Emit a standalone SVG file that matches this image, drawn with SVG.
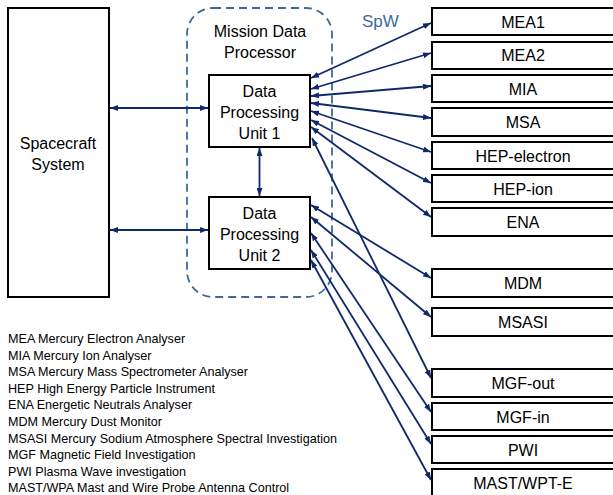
<svg xmlns="http://www.w3.org/2000/svg" width="613" height="495" viewBox="0 0 613 495">
<style>
  .box { fill: #ffffff; stroke: #000000; stroke-width: 2; }
  .t { font-family: "Liberation Sans", Arial, sans-serif; font-size: 16px; fill: #000000; text-anchor: middle; }
  .leg { font-family: "Liberation Sans", Arial, sans-serif; font-size: 12.6px; fill: #000000; }
  .c { stroke: #10296b; stroke-width: 1.8; fill: none; marker-start: url(#ah); marker-end: url(#ah); }
</style>
<defs>
  <marker id="ah" viewBox="0 0 8 6" refX="8" refY="3" markerWidth="8" markerHeight="6" markerUnits="userSpaceOnUse" orient="auto-start-reverse">
    <path d="M0,0 L8,3 L0,6 Z" fill="#10296b"/>
  </marker>
</defs>
<rect width="613" height="495" fill="#ffffff"/>

<g id="mdp">
  <rect x="187" y="8" width="145" height="289" rx="26" ry="26" fill="none" stroke="#3d6a9b" stroke-width="1.8" stroke-dasharray="8,5"/>
  <text class="t" x="260" y="37">Mission Data</text>
  <text class="t" x="260" y="58">Processor</text>
</g>

<g id="spw">
  <text x="362" y="27" font-family="'Liberation Sans', Arial, sans-serif" font-size="17" fill="#3d6a9b">SpW</text>
</g>

<g id="spacecraft">
  <rect class="box" x="8" y="8" width="101" height="289"/>
  <text class="t" x="58" y="149">Spacecraft</text>
  <text class="t" x="58" y="170">System</text>
</g>

<g id="dpu1">
  <rect class="box" x="209" y="75" width="101" height="72"/>
  <text class="t" x="259.500" y="97">Data</text>
  <text class="t" x="259.500" y="118">Processing</text>
  <text class="t" x="259.500" y="139">Unit 1</text>
</g>

<g id="dpu2">
  <rect class="box" x="209" y="197" width="101" height="72"/>
  <text class="t" x="259.500" y="219">Data</text>
  <text class="t" x="259.500" y="240">Processing</text>
  <text class="t" x="259.500" y="261">Unit 2</text>
</g>

<g id="mea1"><rect class="box" x="432" y="8" width="200" height="27"/><text class="t" x="523" y="27.500">MEA1</text></g>
<g id="mea2"><rect class="box" x="432" y="42" width="200" height="27"/><text class="t" x="523" y="61">MEA2</text></g>
<g id="mia"><rect class="box" x="432" y="75" width="200" height="27"/><text class="t" x="523" y="94.500">MIA</text></g>
<g id="msa"><rect class="box" x="432" y="108" width="200" height="28"/><text class="t" x="523" y="128">MSA</text></g>
<g id="hep-electron"><rect class="box" x="432" y="142" width="200" height="27"/><text class="t" x="523" y="161.500">HEP-electron</text></g>
<g id="hep-ion"><rect class="box" x="432" y="175" width="200" height="27"/><text class="t" x="523" y="194.500">HEP-ion</text></g>
<g id="ena"><rect class="box" x="432" y="208" width="200" height="28"/><text class="t" x="523" y="228">ENA</text></g>
<g id="mdm"><rect class="box" x="432" y="269" width="200" height="28"/><text class="t" x="523" y="289">MDM</text></g>
<g id="msasi"><rect class="box" x="432" y="308" width="200" height="28"/><text class="t" x="523" y="328">MSASI</text></g>
<g id="mgf-out"><rect class="box" x="432" y="369" width="200" height="28"/><text class="t" x="523" y="389">MGF-out</text></g>
<g id="mgf-in"><rect class="box" x="432" y="403" width="200" height="27"/><text class="t" x="523" y="422.500">MGF-in</text></g>
<g id="pwi"><rect class="box" x="432" y="436" width="200" height="27"/><text class="t" x="523" y="455.500">PWI</text></g>
<g id="mast"><rect class="box" x="432" y="469" width="200" height="34"/><text class="t" x="523" y="489">MAST/WPT-E</text></g>

<g id="connectors">
  <line class="c" x1="110" y1="108" x2="208" y2="108"/>
  <line class="c" x1="110" y1="230" x2="208" y2="230"/>
  <line class="c" x1="259.500" y1="148" x2="259.500" y2="196"/>

  <line class="c" x1="311" y1="78" x2="431" y2="23"/>
  <line class="c" x1="311" y1="89" x2="431" y2="53"/>
  <line class="c" x1="311" y1="96" x2="431" y2="86"/>
  <line class="c" x1="311" y1="103" x2="431" y2="118"/>
  <line class="c" x1="311" y1="111" x2="431" y2="152"/>
  <line class="c" x1="311" y1="120" x2="431" y2="183"/>
  <line class="c" x1="311" y1="127" x2="431" y2="217"/>
  <line class="c" x1="312" y1="138" x2="431" y2="378"/>

  <line class="c" x1="311" y1="205" x2="431" y2="278"/>
  <line class="c" x1="311" y1="217" x2="431" y2="317"/>
  <line class="c" x1="311" y1="233" x2="431" y2="412"/>
  <line class="c" x1="311" y1="250" x2="431" y2="444"/>
  <line class="c" x1="311" y1="260" x2="431" y2="480"/>
</g>

<g id="legend">
  <text class="leg" x="8" y="343">MEA Mercury Electron Analyser</text>
  <text class="leg" x="8" y="359.600">MIA Mercury Ion Analyser</text>
  <text class="leg" x="8" y="376.200">MSA Mercury Mass Spectrometer Analyser</text>
  <text class="leg" x="8" y="392.800">HEP High Energy Particle Instrument</text>
  <text class="leg" x="8" y="409.400">ENA Energetic Neutrals Analyser</text>
  <text class="leg" x="8" y="426">MDM Mercury Dust Monitor</text>
  <text class="leg" x="8" y="442.600">MSASI Mercury Sodium Atmosphere Spectral Investigation</text>
  <text class="leg" x="8" y="459.200">MGF Magnetic Field Investigation</text>
  <text class="leg" x="8" y="475.800">PWI Plasma Wave investigation</text>
  <text class="leg" x="8" y="492.400">MAST/WPA Mast and Wire Probe Antenna Control</text>
</g>
</svg>
